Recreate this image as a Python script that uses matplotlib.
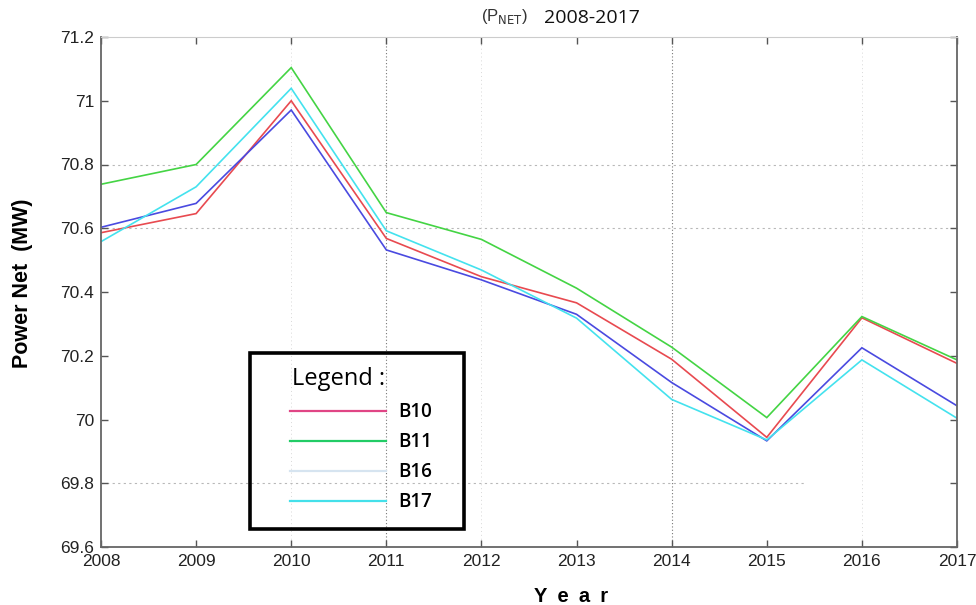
import matplotlib
matplotlib.use("Agg")
import matplotlib.pyplot as plt
from matplotlib.lines import Line2D
from matplotlib.patches import Rectangle

years = [2008, 2009, 2010, 2011, 2012, 2013, 2014, 2015, 2016, 2017]
b10 = [70.586, 70.646, 71.000, 70.568, 70.448, 70.366, 70.189, 69.944, 70.319, 70.176]
b11 = [70.738, 70.800, 71.104, 70.649, 70.565, 70.412, 70.227, 70.006, 70.323, 70.187]
b16 = [70.603, 70.678, 70.971, 70.532, 70.438, 70.330, 70.116, 69.933, 70.225, 70.043]
b17 = [70.558, 70.730, 71.039, 70.592, 70.469, 70.318, 70.063, 69.936, 70.187, 70.004]
series_names = ["B10", "B11", "B16", "B17"]
yticks = [69.6, 69.8, 70, 70.2, 70.4, 70.6, 70.8, 71, 71.2]
ytick_labels = ["69.6", "69.8", "70", "70.2", "70.4", "70.6", "70.8", "71", "71.2"]

line_colors = ["#e84a50", "#44d444", "#4a4ae0", "#44e2ee"]
legend_colors = ["#e04585", "#22cc66", "#d6e4f0", "#44e0ea"]

W, H = 976, 605
fig = plt.figure(figsize=(W / 100, H / 100), dpi=100)
ax = fig.add_axes([101 / W, 1 - 547 / H, (957 - 101) / W, (547 - 37) / H])

for vals, c in zip([b10, b11, b16, b17], line_colors):
    ax.plot(years, vals, color=c, lw=1.2, solid_joinstyle="miter")

ax.set_xlim(2008, 2017)
ax.set_ylim(69.6, 71.2)
ax.set_xticks(years)
ax.set_xticklabels([str(y) for y in years])
ax.set_yticks(yticks)
ax.set_yticklabels(ytick_labels)

# sparse grid like the reference
for yv in [70.8, 70.6]:
    ax.axhline(yv, color="#b8b8b8", lw=0.8, ls=(0, (2, 3)), zorder=0)
ax.plot([2008, 2015.4], [69.8, 69.8], color="#b8b8b8", lw=0.8, ls=(0, (2, 3)), zorder=0)
for xv in [2011, 2014]:
    ax.axvline(xv, color="#777777", lw=0.8, ls=(0, (1, 2)), zorder=0)
for xv in [2010, 2012, 2016]:
    ax.axvline(xv, color="#d8d8d8", lw=0.7, ls=(0, (1, 3)), zorder=0)

ax.tick_params(direction="in", length=5, width=1, colors="#555555", labelcolor="#222222",
               labelsize=12.5, top=True, right=True)
ax.tick_params(axis="x", pad=5)
ax.tick_params(axis="y", pad=5)
for s in ["left", "bottom", "right"]:
    ax.spines[s].set_color("#666666")
    ax.spines[s].set_linewidth(1.3)
ax.spines["top"].set_color("#cccccc")
for lab in ax.get_xticklabels() + ax.get_yticklabels():
    lab.set_family("Liberation Sans")

fig.text(23 / W, 1 - 283 / H, "Power Net  (MW)", rotation=90, ha="center", va="center",
         fontsize=15.5, fontweight="bold", family="Liberation Sans")
fig.text(571 / W, 1 - 596 / H, "Y\u2002e\u2002a\u2002r", ha="center", va="center",
         fontsize=14.5, fontweight="bold", family="Liberation Sans")
fig.text(504 / W, 1 - 17 / H, r"(P$_{\mathrm{NET}}$)", ha="center", va="center", fontsize=12,
         color="#333333", family="Liberation Sans")
fig.text(592 / W, 1 - 18 / H, "2008-2017", ha="center", va="center", fontsize=14,
         color="#111111", family="Open Sans")

# legend box
lax = fig.add_axes([248 / W, 1 - 530 / H, (465 - 248) / W, (530 - 351) / H])
lax.set_xlim(248, 465)
lax.set_ylim(530, 351)
lax.axis("off")
lax.add_patch(Rectangle((249.5, 352.5), 214, 176, fill=False, ec="black", lw=2.6,
                        clip_on=False))
lax.text(292, 379, "Legend :", ha="left", va="center", fontsize=17, family="Open Sans")
for i, (name, c) in enumerate(zip(series_names, legend_colors)):
    yy = 411 + 30 * i
    lax.add_line(Line2D([290, 386], [yy, yy], color=c, lw=1.6))
    lax.text(398, yy + 1, name, ha="left", va="center", fontsize=13.5, family="Open Sans",
             fontweight="semibold")

fig.savefig("out.png", dpi=100)
